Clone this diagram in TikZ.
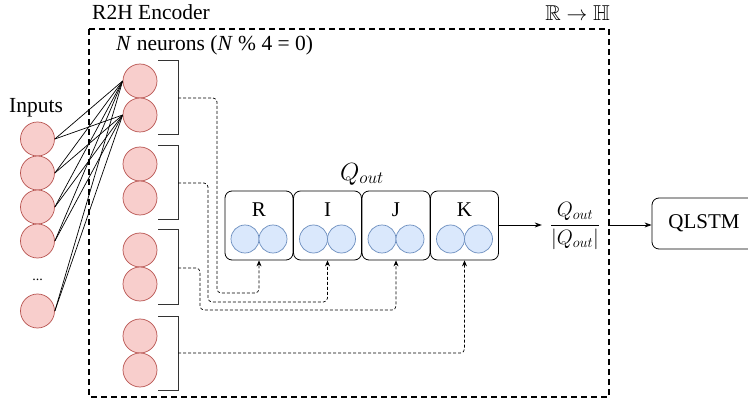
\documentclass[tikz,border=0pt]{standalone}
\usepackage{amssymb}
\usepackage{fontspec}
\setmainfont{Liberation Serif}
\usetikzlibrary{arrows.meta,calc}
\definecolor{redfill}{HTML}{F8CECC}
\definecolor{redline}{HTML}{B85450}
\definecolor{bluefill}{HTML}{DAE8FC}
\definecolor{blueline}{HTML}{6C8EBF}
\tikzset{
  redneuron/.style={circle,draw=redline,fill=redfill,line width=0.7pt,minimum size=34pt,inner sep=0pt},
  blueneuron/.style={circle,draw=blueline,fill=bluefill,line width=0.7pt,minimum size=28pt,inner sep=0pt},
  qbox/.style={draw,rounded corners=7pt,line width=0.8pt,minimum width=68pt,minimum height=69pt,inner sep=0pt},
  bracketline/.style={draw=black!80,line width=1pt},
  dconn/.style={draw,line width=0.7pt,dash pattern=on 3pt off 2pt,rounded corners=4pt,-{Stealth[length=6pt,width=5pt]}},
  inline/.style={draw,line width=0.7pt},
  arr/.style={draw,line width=0.8pt,-{Stealth[length=7pt,width=5pt]}},
  txt/.style={font=\fontsize{21.5}{25}\selectfont,inner sep=0pt}
}
\begin{document}
\begin{tikzpicture}[x=1pt,y=-1pt]
\useasboundingbox (0,0) rectangle (748,401);
\clip (0,0) rectangle (748,401);
\fill[white] (0,0) rectangle (748,401);

% encoder dashed box
\draw[line width=1.3pt,dash pattern=on 6pt off 4pt] (89,29) rectangle (609,397);
\node[txt,anchor=west] (enc) at (92,12) {R2H Encoder};
\node[txt,anchor=east] (rh) at (610,13) {$\mathbb{R}\to\mathbb{H}$};
\node[txt,anchor=west] (nlab) at (116,45) {\textit{N} neurons (\textit{N} \% 4 = 0)};

% inputs
\node[txt] (inlab) at (36,108) {Inputs};
\node[redneuron] (i1) at (37.5,139) {};
\node[redneuron] (i2) at (37.5,173) {};
\node[redneuron] (i3) at (37.5,207) {};
\node[redneuron] (i4) at (37.5,241) {};
\node[font=\fontsize{14}{16}\selectfont,inner sep=0pt] (dots) at (37.5,280) {...};
\node[redneuron] (i5) at (37.5,311) {};

% hidden neurons
\node[redneuron] (n1) at (140,81) {};
\node[redneuron] (n2) at (140,115) {};
\node[redneuron] (n3) at (140,164) {};
\node[redneuron] (n4) at (140,198) {};
\node[redneuron] (n5) at (140,250) {};
\node[redneuron] (n6) at (140,284) {};
\node[redneuron] (n7) at (140,336) {};
\node[redneuron] (n8) at (140,370) {};

\foreach \i in {i1,i2,i3,i4,i5}{
  \foreach \n in {n1,n2}{
    \draw[inline] (\i.east) -- (\n.west);
  }
}

% brackets
\draw[bracketline] (158,61) -- (178,61) -- (178,135) -- (158,135);
\draw[bracketline] (158,146) -- (178,146) -- (178,220) -- (158,220);
\draw[bracketline] (158,230) -- (178,230) -- (178,304) -- (158,304);
\draw[bracketline] (158,316) -- (178,316) -- (178,390) -- (158,390);
\coordinate (b1) at (178,98);
\coordinate (b2) at (178,183);
\coordinate (b3) at (178,268);
\coordinate (b4) at (178,353);

% quaternion boxes
\node[inner sep=0pt,font=\fontsize{25}{30}\selectfont] (qlab) at (362,174) {$Q_{out}$};
\node[qbox] (R) at (259,225.5) {};
\node[qbox] (I) at (327.5,225.5) {};
\node[qbox] (J) at (396,225.5) {};
\node[qbox] (K) at (464.5,225.5) {};
\foreach \b/\t in {R/R,I/I,J/J,K/K}{
  \node[txt,font=\fontsize{21}{24}\selectfont] (\b lab) at ($(\b.center)+(0,-16)$) {\t};
  \node[blueneuron] (\b c1) at ($(\b.center)+(-14,13.5)$) {};
  \node[blueneuron] (\b c2) at ($(\b.center)+(14,13.5)$) {};
}

% dotted connectors
\draw[dconn] (b1) -- (217,98) -- (217,293) -- (259,293) -- (R.south);
\draw[dconn] (b2) -- (208,183) -- (208,302) -- (327.5,302) -- (I.south);
\draw[dconn] (b3) -- (200,268) -- (200,310) -- (396,310) -- (J.south);
\draw[dconn] (b4) -- (464.5,353) -- (K.south);

% normalisation and QLSTM
\node[inner sep=0pt,minimum width=66pt,font=\fontsize{22}{26}\selectfont] (frac) at (575,226) {$\displaystyle\frac{Q_{out}}{|Q_{out}|}$};
\draw[arr] (K.east |- 0,225) -- (frac.west |- 0,225);
\node[draw,rounded corners=7pt,line width=0.8pt,minimum width=104pt,minimum height=51pt,inner sep=0pt,font=\fontsize{21}{24}\selectfont] (qlstm) at (704,223.5) {QLSTM};
\draw[arr] (frac.east |- 0,225) -- (qlstm.west |- 0,225);
\end{tikzpicture}
\end{document}
